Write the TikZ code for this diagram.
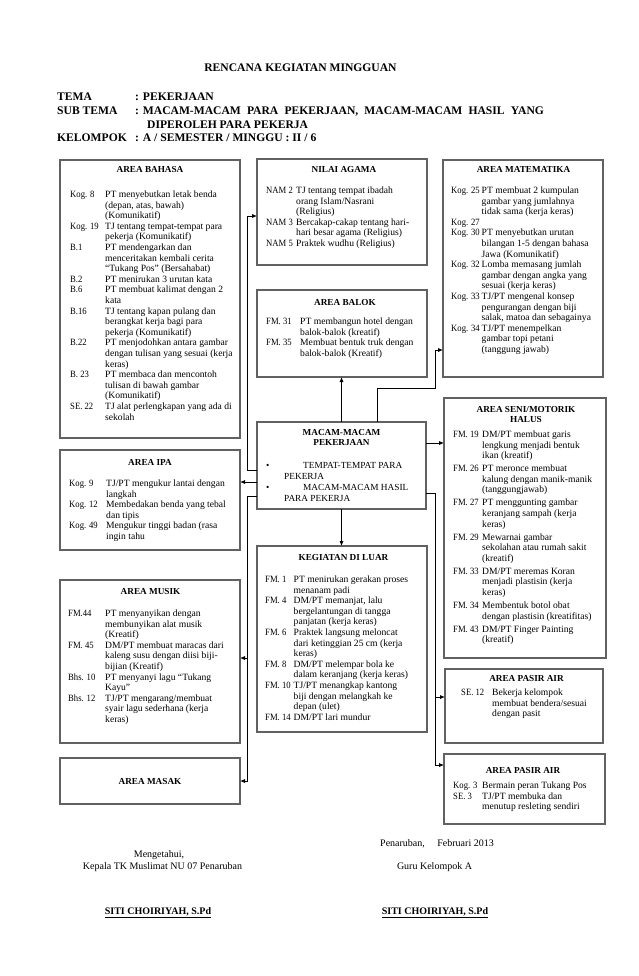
\documentclass[tikz,border=0pt]{standalone}
\usepackage{fontspec}
\usepackage{array}
\setmainfont{Liberation Serif}
\newfontfamily\lblfont[FakeStretch=0.9]{Liberation Serif}
\newcolumntype{L}[1]{>{\lblfont}p{#1}}
\usetikzlibrary{arrows.meta}
\tikzset{
  box/.style={draw=black!62, line width=1.1pt, anchor=north west, inner sep=0pt, outer sep=0pt},
  arr/.style={draw=black, line width=0.9pt, -{Latex[length=5pt,width=4.2pt]}},
  ttl/.style={inner sep=0pt, anchor=base, font=\fontsize{9.2}{10.6}\selectfont\bfseries},
  body/.style={inner sep=0pt, anchor=base west, font=\fontsize{9.6}{10.6}\selectfont},
  hdr/.style={inner sep=0pt, anchor=base west, font=\fontsize{11.6}{13}\selectfont\bfseries},
  foot/.style={inner sep=0pt, anchor=base, font=\fontsize{10}{12}\selectfont},
}
\begin{document}
\begin{tikzpicture}[x=1pt,y=-1pt]
\useasboundingbox[fill=white] (0,0) rectangle (638,976);

% ---------- header ----------
\node[hdr, anchor=base] (title) at (300.5,72) {RENCANA KEGIATAN MINGGUAN};
\node[hdr] (temaL) at (57,101) {TEMA};
\node[hdr] (temaV) at (135,101) {: PEKERJAAN};
\node[hdr] (subL) at (57,114.7) {SUB TEMA};
\node[hdr] (subV) at (135,114.7) {: \makebox[401pt][s]{MACAM-MACAM PARA PEKERJAAN, MACAM-MACAM HASIL YANG}};
\node[hdr] (subV2) at (147,128.4) {DIPEROLEH PARA PEKERJA};
\node[hdr] (kelL) at (57,142) {KELOMPOK};
\node[hdr] (kelV) at (135,142) {: A / SEMESTER / MINGGU : II / 6};

% ---------- boxes ----------
\node[box, minimum width=180pt, minimum height=278pt] (bahasa) at (60,160) {};
\node[box, minimum width=170pt, minimum height=106pt] (nilai) at (257,159) {};
\node[box, minimum width=170pt, minimum height=87pt] (balok) at (257,290) {};
\node[box, minimum width=160pt, minimum height=217pt] (mat) at (443,160) {};
\node[box, minimum width=169pt, minimum height=87pt] (center) at (257,422) {};
\node[box, minimum width=180pt, minimum height=100pt] (ipa) at (60,450) {};
\node[box, minimum width=162pt, minimum height=260pt] (seni) at (444,398) {};
\node[box, minimum width=170pt, minimum height=186pt] (kegiatan) at (257,546) {};
\node[box, minimum width=180pt, minimum height=163pt] (musik) at (60,580) {};
\node[box, minimum width=180pt, minimum height=46pt] (masak) at (60,758) {};
\node[box, minimum width=158pt, minimum height=74pt] (pasir1) at (445,669) {};
\node[box, minimum width=161pt, minimum height=70pt] (pasir2) at (444,754) {};

% ---------- titles ----------
\node[ttl] (bahasaH) at (150,173) {AREA BAHASA};
\node[ttl] (nilaiH) at (344,173) {NILAI AGAMA};
\node[ttl] (balokH) at (345,305) {AREA BALOK};
\node[ttl] (matH) at (523.5,173) {AREA MATEMATIKA};
\node[ttl] (seniH) at (526,412) {\begin{tabular}[t]{@{}c@{}}AREA SENI/MOTORIK\\HALUS\end{tabular}};
\node[ttl] (centerH) at (341.5,435) {\begin{tabular}[t]{@{}c@{}}MACAM-MACAM\\PEKERJAAN\end{tabular}};
\node[ttl] (ipaH) at (150,465) {AREA IPA};
\node[ttl] (kegiatanH) at (343.5,560) {KEGIATAN DI LUAR};
\node[ttl] (musikH) at (150.5,594) {AREA MUSIK};
\node[ttl] (masakH) at (150,784) {AREA MASAK};
\node[ttl] (pasir1H) at (526.5,681) {AREA PASIR AIR};
\node[ttl] (pasir2H) at (523,773) {AREA PASIR AIR};

% ---------- contents ----------
\node[body] (bahasaT) at (70,197.5) {\begin{tabular}[t]{@{}L{35pt}@{}l@{}}
Kog. 8 & PT menyebutkan letak benda\\
 & (depan, atas, bawah)\\
 & (Komunikatif)\\
Kog. 19 & TJ tentang tempat-tempat para\\
 & pekerja (Komunikatif)\\
B.1 & PT mendengarkan dan\\
 & menceritakan kembali cerita\\
 & “Tukang Pos” (Bersahabat)\\
B.2 & PT menirukan 3 urutan kata\\
B.6 & PT membuat kalimat dengan 2\\
 & kata\\
B.16 & TJ tentang kapan pulang dan\\
 & berangkat kerja bagi para\\
 & pekerja (Komunikatif)\\
B.22 & PT menjodohkan antara gambar\\
 & dengan tulisan yang sesuai (kerja\\
 & keras)\\
B. 23 & PT membaca dan mencontoh\\
 & tulisan di bawah gambar\\
 & (Komunikatif)\\
SE. 22 & TJ alat perlengkapan yang ada di\\
 & sekolah
\end{tabular}};

\node[body] (nilaiT) at (266,193.5) {\begin{tabular}[t]{@{}L{30pt}@{}l@{}}
NAM 2 & TJ tentang tempat ibadah\\
 & orang Islam/Nasrani\\
 & (Religius)\\
NAM 3 & Bercakap-cakap tentang hari-\\
 & hari besar agama (Religius)\\
NAM 5 & Praktek wudhu (Religius)
\end{tabular}};

\node[body] (balokT) at (266,324.5) {\begin{tabular}[t]{@{}L{34pt}@{}l@{}}
FM. 31 & PT membangun hotel dengan\\
 & balok-balok (kreatif)\\
FM. 35 & Membuat bentuk truk dengan\\
 & balok-balok (Kreatif)
\end{tabular}};

\node[body] (matT) at (451,193.5) {\begin{tabular}[t]{@{}L{30.5pt}@{}l@{}}
Kog. 25 & PT membuat 2 kumpulan\\
 & gambar yang jumlahnya\\
 & tidak sama (kerja keras)\\
Kog. 27 & \\
Kog. 30 & PT menyebutkan urutan\\
 & bilangan 1-5 dengan bahasa\\
 & Jawa (Komunikatif)\\
Kog. 32 & Lomba memasang jumlah\\
 & gambar dengan angka yang\\
 & sesuai (kerja keras)\\
Kog. 33 & TJ/PT mengenal konsep\\
 & pengurangan dengan biji\\
 & salak, matoa dan sebagainya\\
Kog. 34 & TJ/PT menempelkan\\
 & gambar topi petani\\
 & (tanggung jawab)
\end{tabular}};

\node[body] (seniT) at (453,437.5) {\begin{tabular}[t]{@{}L{29pt}@{}l@{}}
FM. 19 & DM/PT membuat garis\\
 & lengkung menjadi bentuk\\
 & ikan (kreatif)\\[2.4pt]
FM. 26 & PT meronce membuat\\
 & kalung dengan manik-manik\\
 & (tanggungjawab)\\[2.4pt]
FM. 27 & PT menggunting gambar\\
 & keranjang sampah (kerja\\
 & keras)\\[2.4pt]
FM. 29 & Mewarnai gambar\\
 & sekolahan atau rumah sakit\\
 & (kreatif)\\[2.4pt]
FM. 33 & DM/PT meremas Koran\\
 & menjadi plastisin (kerja\\
 & keras)\\[2.4pt]
FM. 34 & Membentuk botol obat\\
 & dengan plastisin (kreatifitas)\\[2.4pt]
FM. 43 & DM/PT Finger Painting\\
 & (kreatif)
\end{tabular}};

\node[body, font=\fontsize{9.3}{11}\selectfont] (centerT) at (266,468.5) {\begin{tabular}[t]{@{}p{18pt}@{}p{19pt}@{}l@{}}
• & & TEMPAT-TEMPAT PARA\\
\multicolumn{3}{@{\hspace{18pt}}l@{}}{PEKERJA}\\
• & & MACAM-MACAM HASIL\\
\multicolumn{3}{@{\hspace{18pt}}l@{}}{PARA PEKERJA}
\end{tabular}};

\node[body] (ipaT) at (69,486.5) {\begin{tabular}[t]{@{}L{37pt}@{}l@{}}
Kog. 9 & TJ/PT mengukur lantai dengan\\
 & langkah\\
Kog. 12 & Membedakan benda yang tebal\\
 & dan tipis\\
Kog. 49 & Mengukur tinggi badan (rasa\\
 & ingin tahu
\end{tabular}};

\node[body] (kegiatanT) at (265,582.5) {\begin{tabular}[t]{@{}L{28.5pt}@{}l@{}}
FM. 1 & PT menirukan gerakan proses\\
 & menanam padi\\
FM. 4 & DM/PT memanjat, lalu\\
 & bergelantungan di tangga\\
 & panjatan (kerja keras)\\
FM. 6 & Praktek langsung meloncat\\
 & dari ketinggian 25 cm (kerja\\
 & keras)\\
FM. 8 & DM/PT melempar bola ke\\
 & dalam keranjang (kerja keras)\\
FM. 10 & TJ/PT menangkap kantong\\
 & biji dengan melangkah ke\\
 & depan (ulet)\\
FM. 14 & DM/PT lari mundur
\end{tabular}};

\node[body] (musikT) at (68,616.5) {\begin{tabular}[t]{@{}L{37pt}@{}l@{}}
FM.44 & PT menyanyikan dengan\\
 & membunyikan alat musik\\
 & (Kreatif)\\
FM. 45 & DM/PT membuat maracas dari\\
 & kaleng susu dengan diisi biji-\\
 & bijian (Kreatif)\\
Bhs. 10 & PT menyanyi lagu “Tukang\\
 & Kayu”\\
Bhs. 12 & TJ/PT mengarang/membuat\\
 & syair lagu sederhana (kerja\\
 & keras)
\end{tabular}};

\node[body] (pasir1T) at (461,695.5) {\begin{tabular}[t]{@{}L{31pt}@{}l@{}}
SE. 12 & Bekerja kelompok\\
 & membuat bendera/sesuai\\
 & dengan pasit
\end{tabular}};

\node[body] (pasir2T) at (453,788.5) {\begin{tabular}[t]{@{}L{29pt}@{}l@{}}
Kog. 3 & Bermain peran Tukang Pos\\
SE. 3 & TJ/PT membuka dan\\
 & menutup resleting sendiri
\end{tabular}};

% ---------- connectors ----------
\coordinate (lA) at (247,470);
\coordinate (lN) at (247,216);
\coordinate (lB) at (247,482);
\coordinate (lC) at (247,496);
\coordinate (lM) at (247,658);
\coordinate (lK) at (247,781);
\coordinate (tE) at (377,388);
\coordinate (tR) at (435,388);
\coordinate (tM) at (435,350);
\coordinate (rS) at (435,443);
\coordinate (rP) at (435,493);
\coordinate (rP1) at (435,697);
\coordinate (rP2) at (435,765);

\draw[arr] (lA -| center.west) -- (lA) -- (lN) -- (lN -| nilai.west);
\draw[arr] (lB -| center.west) -- (lB -| ipa.east);
\draw[arr] (lC -| center.west) -- (lC) -- (lK) -- (lK -| masak.east);
\draw[arr] (lM) -- (lM -| musik.east);
\draw[arr] (center.north) -- (center.north |- balok.south);
\draw[arr] (tE |- center.north) -- (tE) -- (tR) -- (tM) -- (tM -| mat.west);
\draw[arr] (rS -| center.east) -- (rS -| seni.west);
\draw[arr] (rP -| center.east) -- (rP) -- (rP2) -- (rP2 -| pasir2.west);
\draw[arr] (rP1) -- (rP1 -| pasir1.west);
\draw[arr] (center.south) -- (center.south |- kegiatan.north);

% ---------- footer ----------
\node[foot, anchor=base west] (tempat) at (380,846) {Penaruban,\hspace{10pt} Februari 2013};
\node[foot] (mengetahui) at (159,857) {Mengetahui,};
\node[foot] (kepala) at (162.5,869) {Kepala TK Muslimat NU 07 Penaruban};
\node[foot] (guru) at (434.5,869) {Guru Kelompok A};
\node[foot, font=\fontsize{10}{12}\selectfont\bfseries] (ttdL) at (158,914) {\underline{SITI CHOIRIYAH, S.Pd}};
\node[foot, font=\fontsize{10}{12}\selectfont\bfseries] (ttdR) at (435,914) {\underline{SITI CHOIRIYAH, S.Pd}};
\end{tikzpicture}
\end{document}
